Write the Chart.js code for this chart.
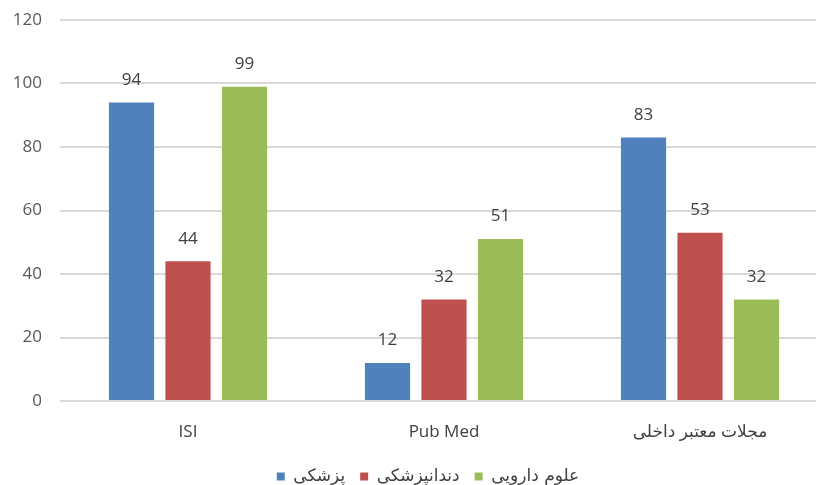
<!DOCTYPE html>
<html>
<head>
<meta charset="utf-8">
<script src="https://cdn.jsdelivr.net/npm/chart.js@4.4.1/dist/chart.umd.min.js"></script>
<style>
html,body{margin:0;padding:0;background:#fff;overflow:hidden;width:816px;height:485px;}
#wrap{position:relative;width:830px;height:485px;}
</style>
</head>
<body>
<div id="wrap"><canvas id="c" width="830" height="485"></canvas></div>
<script>
const categories = ["ISI", "Pub Med", "مجلات معتبر داخلی"];
const seriesNames = ["پزشکی", "دندانپزشکی", "علوم دارویی"];
const medicine = [94, 12, 83];
const dentistry = [44, 32, 53];
const pharmacy = [99, 51, 32];
const yTicks = [0, 20, 40, 60, 80, 100, 120];
const colors = ["#4f81bd", "#c0504d", "#9bbb59"];

const valueLabels = {
  id: 'valueLabels',
  afterLayout(chart) {
    // let y tick labels extend into the left padding without being clipped
    chart.scales.y.left = 0;
  },
  afterDatasetsDraw(chart) {
    const ctx = chart.ctx;
    ctx.save();
    ctx.font = '17px "Open Sans"';
    ctx.fillStyle = '#404040';
    ctx.textAlign = 'center';
    ctx.textBaseline = 'bottom';
    chart.data.datasets.forEach((ds, i) => {
      chart.getDatasetMeta(i).data.forEach((el, j) => {
        ctx.fillText(String(ds.data[j]), el.x, el.y - 14);
      });
    });
    ctx.restore();
  }
};

new Chart(document.getElementById('c'), {
  type: 'bar',
  data: {
    labels: categories,
    datasets: [
      {label: seriesNames[0], data: medicine, backgroundColor: colors[0]},
      {label: seriesNames[1], data: dentistry, backgroundColor: colors[1]},
      {label: seriesNames[2], data: pharmacy, backgroundColor: colors[2]}
    ]
  },
  options: {
    responsive: false,
    animation: false,
    layout: {padding: {top: 20, right: 2, bottom: -10, left: 28}},
    datasets: {bar: {categoryPercentage: 0.662, barPercentage: 0.8}},
    scales: {
      x: {
        grid: {display: false},
        border: {display: false},
        ticks: {font: {family: '"Open Sans", "DejaVu Sans"', size: 17}, color: '#404040', padding: 13},
        afterFit: s => { s.height = 52; }
      },
      y: {
        min: 0, max: 120,
        afterBuildTicks: s => { s.ticks = yTicks.map(v => ({value: v})); },
        grid: {color: '#d9d9d9', lineWidth: 2, drawTicks: false},
        border: {display: false},
        ticks: {font: {family: '"Open Sans"', size: 17}, color: '#595959', padding: 18},
        afterFit: s => { s.width = 32; s.paddingTop = 0; s.paddingBottom = 0; }
      }
    },
    plugins: {
      legend: {
        position: 'bottom',
        labels: {
          font: {family: '"DejaVu Sans"', size: 17},
          color: '#404040',
          boxWidth: 8, boxHeight: 8, padding: 15
        }
      },
      tooltip: {enabled: false}
    }
  },
  plugins: [valueLabels]
});
</script>
</body>
</html>
